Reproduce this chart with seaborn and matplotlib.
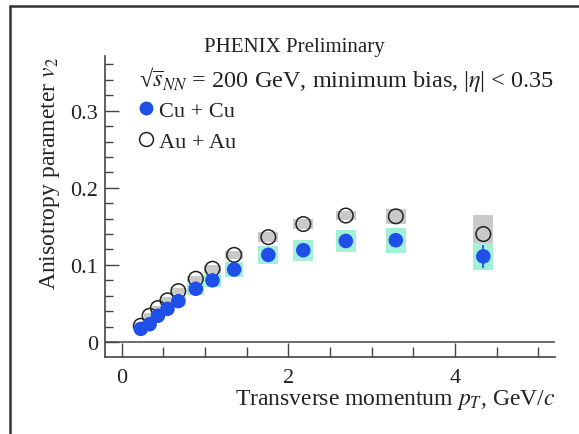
import matplotlib
matplotlib.use("Agg")
import matplotlib.pyplot as plt
from matplotlib.lines import Line2D
import seaborn as sns
import pandas as pd
import numpy as np

# ---- data ----
pt = [0.23, 0.335, 0.435, 0.55, 0.68, 0.89, 1.09, 1.35, 1.76, 2.18, 2.69, 3.29, 4.34]
cu_v2 = [0.017, 0.023, 0.034, 0.043, 0.053, 0.069, 0.080, 0.094, 0.113, 0.119, 0.131, 0.132, 0.111]
cu_sys = [0.004, 0.004, 0.005, 0.005, 0.006, 0.008, 0.0087, 0.010, 0.012, 0.0135, 0.0145, 0.016, 0.017]
cu_stat = [0, 0, 0, 0, 0, 0, 0, 0, 0, 0, 0, 0, 0.015]
au_v2 = [0.021, 0.034, 0.044, 0.054, 0.066, 0.082, 0.095, 0.113, 0.136, 0.153, 0.164, 0.163, 0.140]
au_sys = [0.003, 0.003, 0.003, 0.004, 0.004, 0.004, 0.005, 0.005, 0.0065, 0.006, 0.006, 0.010, 0.025]
box_w = [0.14, 0.14, 0.14, 0.16, 0.18, 0.2, 0.2, 0.22, 0.24, 0.24, 0.24, 0.24, 0.24]

df_cu = pd.DataFrame({"pT": pt, "v2": cu_v2, "sys": cu_sys, "stat": cu_stat, "w": box_w})
df_au = pd.DataFrame({"pT": pt, "v2": au_v2, "sys": au_sys, "w": box_w})

sns.set_theme(style="white")
plt.rcParams["font.family"] = ["Liberation Serif", "DejaVu Serif"]
plt.rcParams["mathtext.fontset"] = "stix"

fig = plt.figure(figsize=(5.79, 4.35), dpi=100)
ax = fig.add_axes([0.1813, 0.177, 0.9585 - 0.1813, 0.869 - 0.177])

# frame lines of figure
fig.add_artist(Line2D([10 / 579, 10 / 579], [0, 1 - 7 / 435], transform=fig.transFigure, color="#333333", lw=1.8))
fig.add_artist(Line2D([10 / 579, 1], [1 - 7 / 435, 1 - 7 / 435], transform=fig.transFigure, color="#333333", lw=1.8))

# systematic boxes
ax.bar(df_au["pT"], 2 * df_au["sys"], bottom=df_au["v2"] - df_au["sys"], width=df_au["w"],
       color="#c9c9c9", edgecolor="none", zorder=1)
ax.bar(df_cu["pT"], 2 * df_cu["sys"], bottom=df_cu["v2"] - df_cu["sys"], width=df_cu["w"],
       color="#a3f0d9", edgecolor="none", zorder=2)
ax.errorbar(df_cu["pT"], df_cu["v2"], yerr=df_cu["stat"], fmt="none", ecolor="#2255ee", elinewidth=1.3, zorder=3)

sns.scatterplot(data=df_au, x="pT", y="v2", ax=ax, marker="o", s=110, facecolor="none",
                edgecolor="#222222", linewidth=1.1, zorder=4)
sns.scatterplot(data=df_cu, x="pT", y="v2", ax=ax, marker="o", s=110, color="#1f4fe8",
                edgecolor="none", zorder=5)

ax.axhline(0, color="#555555", lw=1.2, zorder=0)

ax.set_xlim(-0.2, 5.2)
ax.set_ylim(-0.0195, 0.371)
ax.set_xticks([0, 2, 4])
ax.set_xticks(np.arange(0, 5.01, 0.5), minor=True)
ax.set_yticks([0, 0.1, 0.2, 0.3])
ax.set_yticklabels(["0", "0.1", "0.2", "0.3"])
ax.set_yticks(np.arange(0, 0.37, 0.02), minor=True)

for s in ["top", "right"]:
    ax.spines[s].set_visible(False)
for s in ["left", "bottom"]:
    ax.spines[s].set_color("#444444")
    ax.spines[s].set_linewidth(1.2)

ax.tick_params(axis="x", which="major", direction="in", length=10, width=1, color="#444444",
               labelsize=16, pad=8, bottom=True, labelcolor="#222222")
ax.tick_params(axis="x", which="minor", direction="in", length=7, width=1, color="#444444", bottom=True)
ax.tick_params(axis="y", which="major", direction="in", length=10, width=1, color="#444444",
               labelsize=16, left=True, pad=5, labelcolor="#222222")
ax.tick_params(axis="y", which="minor", direction="in", length=6, width=1, color="#444444", left=True)

ax.set_xlabel(r"Transverse momentum $p_T$, GeV/$c$", fontsize=17, color="#222222", loc="right", labelpad=0)
ax.set_ylabel(r"Anisotropy parameter $v_2$", fontsize=17, color="#222222", loc="top", labelpad=6)

ax.text(0.42, 1.03, "PHENIX Preliminary", transform=ax.transAxes, ha="center", va="center",
        fontsize=15, color="#222222")
ax.text(0.075, 0.924, "\u221a" + r"$\overline{s}_{NN}$ = 200 GeV, minimum bias, |$\eta$| < 0.35",
        transform=ax.transAxes, ha="left", va="center", fontsize=17.5, color="#222222")

handles = [
    Line2D([], [], marker="o", linestyle="none", markersize=10, markerfacecolor="#1f4fe8",
           markeredgecolor="none", label="Cu + Cu"),
    Line2D([], [], marker="o", linestyle="none", markersize=10, markerfacecolor="none",
           markeredgecolor="#222222", markeredgewidth=1.1, label="Au + Au"),
]
leg = ax.legend(handles=handles, loc="center left", bbox_to_anchor=(0.070, 0.767), frameon=False,
                fontsize=16, handletextpad=0.1, labelspacing=0.5, handlelength=0.9,
                borderaxespad=0, borderpad=0)
for t in leg.get_texts():
    t.set_color("#222222")

fig.savefig("out.png", dpi=100)
